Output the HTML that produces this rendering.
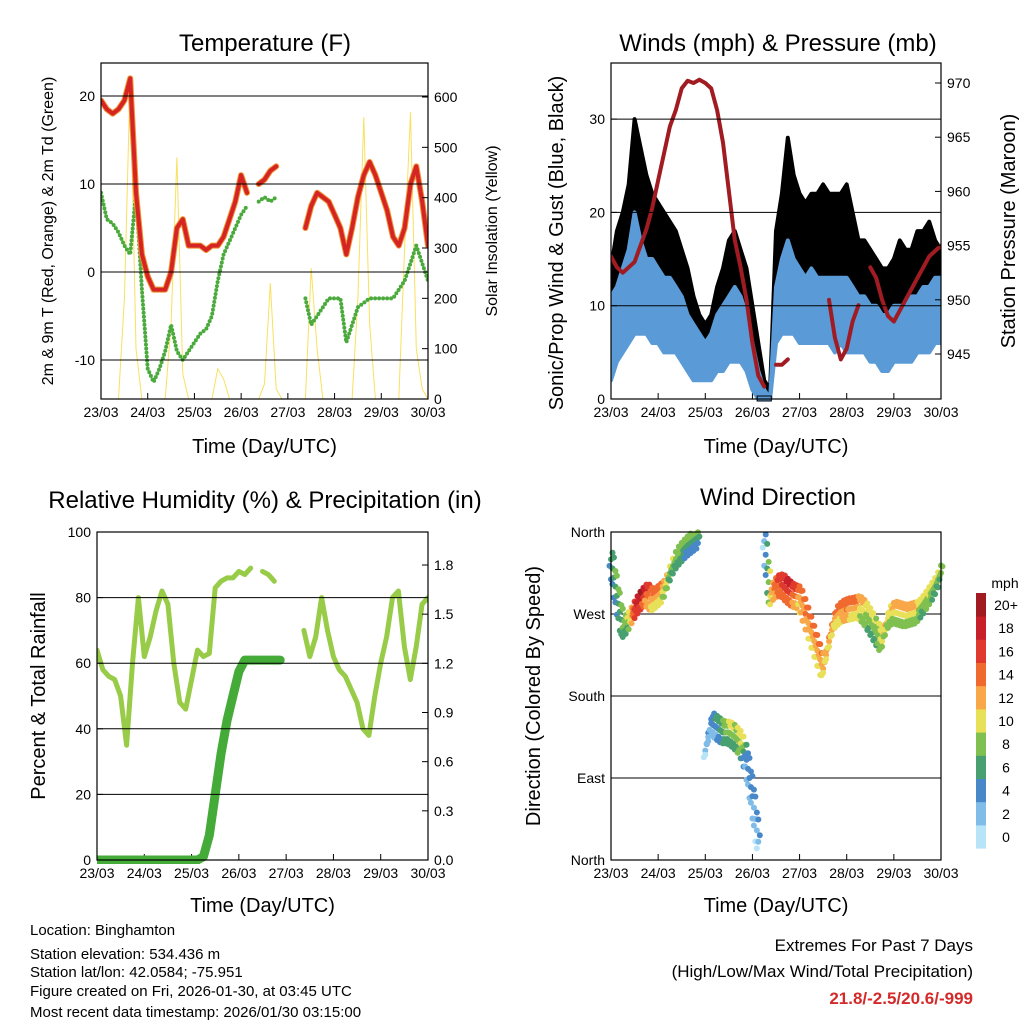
<!DOCTYPE html>
<html><head><meta charset="utf-8">
<style>
html,body{margin:0;padding:0;background:#fff;}
svg{display:block;font-family:"Liberation Sans",sans-serif;}
</style></head>
<body>
<svg id="chart" width="1024" height="1024" viewBox="0 0 1024 1024" xmlns="http://www.w3.org/2000/svg">
<g id="footer" font-size="15" fill="#000">
<text x="30" y="935">Location: Binghamton</text>
<text x="30" y="959">Station elevation: 534.436 m</text>
<text x="30" y="977">Station lat/lon: 42.0584; -75.951</text>
<text x="30" y="996">Figure created on Fri, 2026-01-30, at 03:45 UTC</text>
<text x="30" y="1017">Most recent data timestamp: 2026/01/30 03:15:00</text>
</g>
<g text-anchor="end">
<text x="973" y="951" font-size="17">Extremes For Past 7 Days</text>
<text x="973" y="977" font-size="17">(High/Low/Max Wind/Total Precipitation)</text>
<text x="973" y="1004" font-size="17" font-weight="bold" fill="#d42a2a">21.8/-2.5/20.6/-999</text>
</g>
</svg>
<script>
// ---------- data (3-hour steps from 23/03 00 UTC to 30/03 00 UTC) ----------
const dayLabels = ["23/03","24/03","25/03","26/03","27/03","28/03","29/03","30/03"];
const tempF = [19.5,18.5,18,18.5,19.5,22,9,2,-0.5,-2,-2,-2,0,5,6,3,3,3,2.5,3,3,4,6,8,11,9,null,10,10.5,11.5,12,null,null,null,null,5,7.5,9,8.5,8,6.5,5,2,5,8.5,11,12.5,11,9,7,4,3,5,10,12,8,3];
const dewF = [9,6,5.5,4.5,3,2,9,-2,-11,-12.5,-11,-9,-6,-9,-10,-9,-8,-7,-6.5,-5,-1,2,3.5,5,6.5,7.5,null,8,8.5,8,8.5,null,null,null,null,-3,-6,-5,-4,-3,-3,-3,-8,-6,-4,-3.5,-3,-3,-3,-3,-3,-2,-1,1,3,1,-1];
const solar = [0,0,0,0,200,640,100,0,0,0,0,0,150,480,50,0,0,0,0,0,60,40,0,0,0,0,0,0,30,230,20,0,0,0,0,0,260,100,0,0,0,0,0,0,200,560,150,0,0,0,0,0,300,570,100,20,0];
const pressure = [954,953,952.5,953,953.5,955,956.5,958.5,961,963.5,966,967.5,969.5,970.2,970,970.3,970,969.5,967.5,964.5,960,955.5,953,950,946,943,942,null,944,944,944.5,null,null,null,null,null,null,950,946.5,944.5,945.5,948,949.5,null,953,952,950,948.5,948,949,950,951,952,953,954,954.5,955];
const gustHi = [14,18,20,23,30,27,24,22,21,20,19,18,16,14,11,9,8,9,12,14,17,18,16,14,10,6,2,1,18,22,28,24,22,21,22,22,23,22,22,22,23,20,17,17,16,15,14,14,15,17,16,16,18,18,19,17,16];
const gustLo = [3,6,8,9,10,10,10,9,8,8,7,7,6,5,4,3,3,3,4,5,6,6,6,5,2,1,0,0,8,10,11,11,10,9,9,9,9,9,8,9,8,8,7,7,6,6,5,5,6,6,6,6,7,7,7,8,8];
const windHi = [11,12,14,16,20,17,15,15,14,13,13,12,11,9,8,7,6,7,9,10,11,12,11,9,6,3,1,0,12,15,17,15,14,13,14,13,13,13,13,13,13,12,11,11,10,10,9,9,10,10,10,11,11,12,12,13,13];
const windLo = [2,4,5,6,7,7,7,6,6,5,5,5,4,3,2,2,2,2,3,3,4,4,4,3,1,0,0,0,6,7,7,7,6,6,6,6,6,6,5,6,5,5,5,5,4,4,3,3,4,4,4,4,5,5,5,6,6];
const rh = [64,58,56,55,50,35,60,80,62,68,76,82,78,60,48,46,55,64,62,63,83,85,86,86,88,87,89,null,88,87,85,null,null,null,null,70,62,68,80,70,62,58,56,52,48,40,38,50,60,68,80,82,65,55,65,78,80];
const precip = [0,0,0,0,0,0,0,0,0,0,0,0,0,0,0,0,0,0,0.02,0.15,0.4,0.65,0.85,1.0,1.15,1.22,1.22,1.22,1.22,1.22,1.22,1.22,null,null,null,null,null,null,null,null,null,null,null,null,null,null,null,null,null,null,null,null,null,null,null,null,null];
const windDir = [330,290,255,262,275,285,292,285,290,296,315,330,338,345,350,355,120,150,145,140,140,135,128,110,70,20,350,290,300,302,295,290,288,270,250,230,210,240,265,272,275,276,278,272,262,250,240,265,272,270,268,270,272,280,290,300,315];
const windSpd = [5,6,7,8,16,18,14,12,12,10,8,7,7,6,6,5,2,3,4,6,8,7,9,3,3,2,2,10,14,15,16,14,12,13,12,12,11,12,12,12,13,12,11,9,8,7,10,9,10,10,10,10,9,8,9,8,7];
const speedLevels = ["0","2","4","6","8","10","12","14","16","18","20+"];
const speedColors = ["#b8e4f8","#80bce8","#4888c8","#48a070","#80c050","#e8e058","#f8a848","#f06a30","#e03a2e","#c8202a","#a01c22"];

const NS="http://www.w3.org/2000/svg";
const svg=document.getElementById('chart');
function el(tag,attrs,parent){const e=document.createElementNS(NS,tag);for(const k in attrs)e.setAttribute(k,attrs[k]);(parent||svg).appendChild(e);return e;}
function linScale(d0,d1,r0,r1){return v=>r0+(v-d0)*(r1-r0)/(d1-d0);}
function segs(arr,xf,yf){const out=[];let cur=[];arr.forEach((v,i)=>{if(v===null){if(cur.length)out.push(cur);cur=[];}else cur.push([xf(i/8),yf(v)]);});if(cur.length)out.push(cur);return out;}
function pathOf(pts){return pts.map((p,i)=>(i?'L':'M')+p[0].toFixed(1)+','+p[1].toFixed(1)).join('');}
function colorFor(s){let k=Math.min(10,Math.max(0,Math.round(s/2)));return speedColors[k];}

function frame(name,x0,y0,x1,y1,title,titleX,xTitleY){
  const g=el('g',{});
  
  
  const t=el('text',{x:titleX,y:y0-12,'font-size':24,'text-anchor':'middle'},g);
  
  
  t.textContent=title;
  const xs=linScale(0,7,x0,x1);
  dayLabels.forEach((lab,i)=>{
    const x=xs(i);
    const tk=el('line',{x1:x,x2:x,y1:y1,y2:y1-6,stroke:'#000','stroke-width':1},g);
    
    
    const tt=el('text',{x:x,y:y1+18,'font-size':14,'text-anchor':'middle'},g);
    
    
    tt.textContent=lab;
  });
  const xt=el('text',{x:(x0+x1)/2,y:xTitleY,'font-size':20,'text-anchor':'middle'},g);
  
  
  xt.textContent='Time (Day/UTC)';
  return {g,xs};
}
function border(g,x0,y0,x1,y1){
  const r=el('rect',{x:x0,y:y0,width:x1-x0,height:y1-y0,fill:'none',stroke:'#000','stroke-width':1.2},g);
  
  
}
function yTicks(g,vals,labels,yf,x,side,grid,x0,x1){
  vals.forEach((v,i)=>{
    const y=yf(v);
    if(grid){const gl=el('line',{x1:x0,x2:x1,y1:y,y2:y,stroke:'#000','stroke-width':1},g);
      
      }
    const tk=el('line',{x1:x,x2:x+(side<0?6:-6),y1:y,y2:y,stroke:'#000'},g);
    
    
    const t=el('text',{x:side<0?x-6:x+6,y:y+5,'font-size':14,'text-anchor':side<0?'end':'start'},g);
    
    
    t.textContent=labels[i];
  });
}
function vTitle(g,txt,x,y,size,name){
  const t=el('text',{x:x,y:y,'font-size':size,'text-anchor':'middle',transform:`rotate(-90 ${x} ${y})`},g);
  
  
  t.textContent=txt;
}

// ---------- Panel 1: temperature ----------
(function(){
  const x0=101,x1=428,y0=63,y1=399;
  const {g,xs}=frame('temperature-panel',x0,y0,x1,y1,'Temperature (F)',265,453);
  const yT=linScale(0,10,272,184), yS=linScale(0,600,399,97);
  const clip=el('clipPath',{id:'c1'},g);el('rect',{x:x0,y:y0,width:x1-x0,height:y1-y0},clip);
  const pg=el('g',{'clip-path':'url(#c1)'},g);
  yTicks(g,[-10,0,10,20],['-10','0','10','20'],yT,x0,-1,true,x0,x1);
  yTicks(g,[0,100,200,300,400,500,600],['0','100','200','300','400','500','600'],yS,x1,1,false);
  segs(solar,xs,yS).forEach(s=>{const p=el('path',{d:pathOf(s),fill:'none',stroke:'#f8e060','stroke-width':1},pg);
    });
  segs(dewF,xs,yT).forEach(s=>{const p=el('path',{d:pathOf(s),fill:'none',stroke:'#4aaa3c','stroke-width':4,'stroke-linecap':'round','stroke-dasharray':'0 4'},pg);
    });
  segs(tempF,xs,yT).forEach(s=>{
    const o=el('path',{d:pathOf(s),fill:'none',stroke:'#f09030','stroke-width':6,'stroke-linejoin':'round','stroke-linecap':'round'},pg);
    
    const p=el('path',{d:pathOf(s),fill:'none',stroke:'#d42424','stroke-width':4,'stroke-linejoin':'round','stroke-linecap':'round'},pg);
    });
  border(g,x0,y0,x1,y1);
  vTitle(g,'2m & 9m T (Red, Orange) & 2m Td (Green)',53,231,16,'y-axis-title-left');
  vTitle(g,'Solar Insolation (Yellow)',497,231,16,'y-axis-title-right');
})();

// ---------- Panel 2: winds & pressure ----------
(function(){
  const x0=611,x1=941,y0=63,y1=399;
  const {g,xs}=frame('winds-panel',x0,y0,x1,y1,'Winds (mph) & Pressure (mb)',778,453);
  const yW=linScale(0,10,399,305.7), yP=linScale(945,970,354,83);
  const clip=el('clipPath',{id:'c2'},g);el('rect',{x:x0,y:y0,width:x1-x0,height:y1-y0+3},clip);
  const pg=el('g',{'clip-path':'url(#c2)'},g);
  yTicks(g,[0,10,20,30],['0','10','20','30'],yW,x0,-1,true,x0,x1);
  yTicks(g,[945,950,955,960,965,970],['945','950','955','960','965','970'],yP,x1,1,false);
  function band(hi,lo,color,name){
    let top=[],bot=[];
    hi.forEach((v,i)=>{top.push([xs(i/8),yW(v)]);bot.push([xs(i/8),yW(lo[i])]);});
    const d=pathOf(top.concat(bot.reverse()))+'Z';
    const p=el('path',{d:d,fill:color,stroke:color,'stroke-width':4,'stroke-linejoin':'round'},pg);
    
  }
  band(gustHi,gustLo,'#000','gust-band');
  band(windHi,windLo,'#5a9ad6','wind-band');
  const z=el('rect',{x:xs(3.1),y:y1-3,width:xs(3.4)-xs(3.1),height:5,fill:'#5a9ad6',stroke:'#000','stroke-width':1},pg);
  
  segs(pressure,xs,yP).forEach(s=>{const p=el('path',{d:pathOf(s),fill:'none',stroke:'#a01c22','stroke-width':4,'stroke-linejoin':'round','stroke-linecap':'round'},pg);
    });
  border(g,x0,y0,x1,y1);
  vTitle(g,'Sonic/Prop Wind & Gust (Blue, Black)',563,243,20,'y-axis-title-left');
  vTitle(g,'Station Pressure (Maroon)',1015,231,20,'y-axis-title-right');
})();

// ---------- Panel 3: RH & precip ----------
(function(){
  const x0=97,x1=428,y0=532,y1=860;
  const {g,xs}=frame('humidity-panel',x0,y0,x1,y1,'Relative Humidity (%) & Precipitation (in)',265,912);
  g.querySelector('text').setAttribute('y',508);
  const yR=linScale(0,100,860,532), yPr=linScale(0,1.8,860,565);
  const clip=el('clipPath',{id:'c3'},g);el('rect',{x:x0,y:y0,width:x1-x0,height:y1-y0+4},clip);
  const pg=el('g',{'clip-path':'url(#c3)'},g);
  yTicks(g,[0,20,40,60,80,100],['0','20','40','60','80','100'],yR,x0,-1,true,x0,x1);
  yTicks(g,[0,0.3,0.6,0.9,1.2,1.5,1.8],['0.0','0.3','0.6','0.9','1.2','1.5','1.8'],yPr,x1,1,false);
  segs(rh,xs,yR).forEach(s=>{const p=el('path',{d:pathOf(s),fill:'none',stroke:'#98cc48','stroke-width':5,'stroke-linejoin':'round','stroke-linecap':'round'},pg);
    });
  segs(precip,xs,yPr).forEach(s=>{const p=el('path',{d:pathOf(s),fill:'none',stroke:'#44aa38','stroke-width':9,'stroke-linejoin':'round','stroke-linecap':'round'},pg);
    });
  border(g,x0,y0,x1,y1);
  vTitle(g,'Percent & Total Rainfall',45,696,20,'y-axis-title-left');
})();

// ---------- Panel 4: wind direction ----------
(function(){
  const x0=611,x1=941,y0=532,y1=860;
  const {g,xs}=frame('direction-panel',x0,y0,x1,y1,'Wind Direction',778,912);
  g.querySelector('text').setAttribute('y',505);
  const yD=linScale(0,360,860,532);
  yTicks(g,[0,90,180,270,360],['North','East','South','West','North'],yD,x0,-1,false);
  [90,180,270].forEach(v=>{const gl=el('line',{x1:x0,x2:x1,y1:yD(v),y2:yD(v),stroke:'#000'},g);
    });
  const pg=el('g',{},g);
  const spread=[-12,0,12];
  for(let i=0;i<windDir.length;i++){
    const n=i<windDir.length-1?4:1;
    for(let k=0;k<n;k++){
      let d=windDir[i],s=windSpd[i];
      if(k>0){const d2=windDir[i+1];if(Math.abs(d2-d)>90)continue;d=d+(d2-d)*k/n;s=s+(windSpd[i+1]-s)*k/n;}
      spread.forEach((o,j)=>{
        const dd=d+o*((k+j)%2?1:0.6);
        if(dd<0||dd>360)return;
        const c=el('circle',{cx:xs((i+k/n)/8)+(j-1)*1.5,cy:yD(dd),r:3,fill:colorFor(s+(j-1)*1.5)},pg);
        
        
      });
    }
  }
  border(g,x0,y0,x1,y1);
  vTitle(g,'Direction (Colored By Speed)',540,696,20,'y-axis-title-left');
  // colorbar
  const cb=el('g',{});
  
  
  const u=el('text',{x:1005,y:588,'font-size':14,'text-anchor':'middle'},cb);
  u.textContent='mph';
  speedLevels.forEach((lab,k)=>{
    const top=593+(10-k)*23.2;
    const r=el('rect',{x:976,y:top,width:10,height:23.6,fill:speedColors[k]},cb);
    
    const t=el('text',{x:1006,y:top+17,'font-size':14,'text-anchor':'middle'},cb);
    
    t.textContent=lab;
  });
})();
</script>
</body></html>
